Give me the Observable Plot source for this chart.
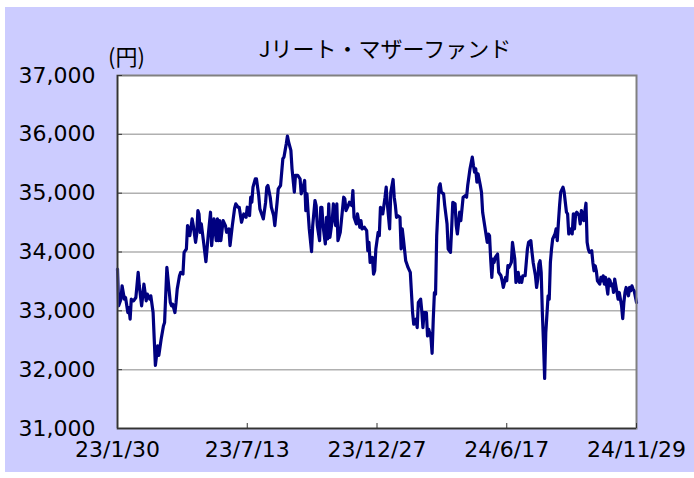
<!DOCTYPE html>
<html>
<head>
<meta charset="utf-8">
<script src="https://cdn.jsdelivr.net/npm/d3@7"></script>
<script src="https://cdn.jsdelivr.net/npm/@observablehq/plot@0.6"></script>
<style>
  html, body { margin: 0; padding: 0; background: #ffffff; }
  #wrap { position: relative; width: 694px; height: 478px; overflow: hidden; }
  #bg { position: absolute; left: 5px; top: 7px; width: 689px; height: 465px; background: #ccccff; }
  #chart { position: absolute; left: 0; top: 0; }
  .lbl { position: absolute; font-family: "Noto Sans CJK JP", "Noto Sans", sans-serif; color: #000; line-height: 1; white-space: nowrap; }
  #title { left: 235px; width: 300px; top: 36px; text-align: center; font-size: 22px; }
  #unit { left: 108px; top: 44px; font-size: 22px; }
</style>
</head>
<body>
<div id="wrap">
  <div id="bg"></div>
  <div id="chart"></div>
  <div id="title" class="lbl">Jリート・マザーファンド</div>
  <div id="unit" class="lbl">(円)</div>
</div>
<script>
// trading-day index (0 = 23/1/30, 452 = 24/11/29)
const dayIdx = [
  0,1,3,4,6,7,9,10,11,12,14,16,18,19,21,22,23,25,26,28,29,31,32,33,35,36,38,40,41,43,44,46,47,48,50,51,52,54,55,57,58,60,61,62,63,65,66,68,69,70,71,72,73,
  75,77,79,81,82,84,86,87,88,89,90,92,94,95,97,98,100,102,103,105,106,108,110,112,113,115,116,117,118,120,121,123,124,126,127,129,130,131,133,134,136,137,139,140,142,144,145,146,147,148,149,151,152,154,
  155,157,159,160,162,163,164,165,166,167,169,170,172,173,174,176,177,178,179,181,182,183,184,185,187,188,190,191,192,194,195,197,198,199,201,202,204,205,206,208,209,211,212,213,215,217,218,219,220,222,223,224,225,227,228,229,
  231,233,234,235,237,238,240,241,242,243,244,246,247,248,249,251,252,253,255,256,257,258,260,261,262,264,265,266,267,269,270,271,273,274,275,276,277,278,280,281,282,284,285,287,288,290,291,292,294,295,296,298,299,301,303,304,305,
  307,309,310,311,312,313,314,316,317,318,320,322,323,324,325,326,327,328,329,331,332,334,335,336,338,339,340,341,343,344,346,347,349,350,351,352,353,355,357,358,360,361,362,364,365,366,367,368,369,370,371,372,373,375,376,377,378,379,381,382,383,
  384,385,386,388,389,390,391,392,393,395,396,397,398,399,400,402,403,404,405,406,408,409,410,411,413,414,415,416,417,418,420,421,422,423,424,425,427,428,429,430,431,432,433,435,436,437,438,439,440,441,442,443,445,446,447,448,449,450,452
];
// base price (yen)
const nav = [
  33710,33085,33198,33426,33198,33227,32971,33056,32858,33198,33170,33227,33653,33426,33085,33255,33454,33170,33284,33198,33255,32971,32516,32073,32403,32244,32516,32744,32801,33738,33539,33142,33085,33113,32971,33142,33369,33596,33653,33625,33994,34051,34449,34392,34278,34562,34449,34164,34306,34704,34647,34335,34477,
  34164,33835,34278,34676,34108,34562,34193,34562,34193,34534,34193,34534,34449,34335,34392,34108,34449,34744,34818,34761,34761,34505,34647,34590,34761,34619,34931,34846,35102,35244,35244,34960,34733,34619,34562,34846,35102,35130,34931,34761,34619,34449,34846,35073,35130,35585,35613,35727,35840,35971,35869,35727,35414,35017,
  35301,35301,35244,34988,35130,35216,34704,34988,34676,34392,34005,34449,34875,34789,34449,34193,34761,34761,34449,34136,34590,34221,34818,34249,34534,34818,34449,34818,34193,34335,34534,34931,34903,34704,34789,34846,34789,35045,34590,34477,34647,34420,34534,34392,34420,34363,34022,34164,33823,33909,33624,33681,34051,34335,34278,34761,
  34647,34931,35102,34818,34392,35017,35233,34931,34789,34590,34619,34590,34051,34392,34221,33852,33795,33738,33653,33312,32971,32772,32858,32715,33142,33198,32999,32715,32971,32971,32573,32687,32545,32278,32858,33312,33284,34278,35102,35159,35017,34988,34789,34477,34051,33994,34392,34846,34818,34449,34306,34676,34534,34931,34960,34931,35130,
  35414,35613,35471,35358,35414,35187,35329,35130,35017,34676,34420,34164,34306,34278,33880,33568,33880,33823,33909,33965,33653,33596,33511,33397,33568,33511,33767,33738,33823,34164,33880,33483,33653,33483,33568,33483,33596,33596,34051,34164,34193,33994,33823,33596,33397,33539,33795,33852,33653,32971,32460,31852,32630,33255,33198,33823,34051,34221,34306,34392,34193,
  34505,34789,35017,35102,35017,34846,34676,34647,34306,34392,34306,34647,34392,34647,34676,34619,34477,34704,34647,34534,34829,34164,34051,33994,34022,33823,33681,33767,33681,33511,33454,33568,33511,33596,33454,33568,33284,33539,33511,33426,33454,33312,33539,33312,33198,33312,33198,33085,32869,33142,33312,33397,33255,33397,33340,33426,33369,33340,33142
];
const tickIdx = [0, 113, 226, 339, 452];
const tickLabels = ["23/1/30", "23/7/13", "23/12/27", "24/6/17", "24/11/29"];
const yTicks = [31000, 32000, 33000, 34000, 35000, 36000, 37000];

const data = dayIdx.map((d, i) => ({d, v: nav[i]}));
const fmtX = i => tickLabels[tickIdx.indexOf(i)];
const tickFont = '"DejaVu Sans", "Noto Sans", sans-serif';

const chart = Plot.plot({
  width: 694,
  height: 478,
  marginLeft: 117,
  marginRight: 58,
  marginTop: 75,
  marginBottom: 50,
  style: {background: "transparent", fontFamily: tickFont, fontSize: "22px", color: "#000", overflow: "visible"},
  x: {domain: [0, 452]},
  y: {domain: [31000, 37000]},
  marks: [
    Plot.frame({fill: "white", stroke: null}),
    Plot.gridY(yTicks.slice(1, -1), {stroke: "#b0b0b0", strokeOpacity: 1, strokeWidth: 1.5}),
    Plot.line(data, {x: "d", y: "v", stroke: "#000080", strokeWidth: 3.2, strokeLinejoin: "round"}),
    Plot.frame({stroke: "#808080", strokeWidth: 2}),
    Plot.ruleX([0], {stroke: "#333", strokeWidth: 1.5}),
    Plot.ruleY([31000], {stroke: "#333", strokeWidth: 1.5}),
    Plot.axisY(yTicks, {tickSize: 5, dx: 5, tickFormat: () => "", stroke: "#333", label: null}),
    Plot.axisX(tickIdx, {tickSize: 5, dy: -5, tickFormat: () => "", stroke: "#333", label: null}),
    Plot.axisY(yTicks, {tickSize: 0, tickPadding: 22, tickFormat: d3.format(","), fontSize: 22, label: null, fill: "#000"}),
    Plot.axisX(tickIdx, {tickSize: 0, tickPadding: 13, tickFormat: fmtX, fontSize: 22, label: null, fill: "#000"})
  ]
});
document.getElementById("chart").appendChild(chart);
</script>
</body>
</html>
